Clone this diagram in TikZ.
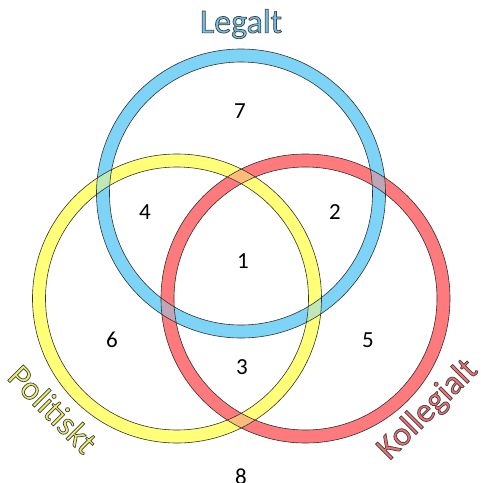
\documentclass[tikz,border=0pt]{standalone}
\usepackage{fontspec}
\setmainfont{Carlito}
\usepackage{tikz}
\usetikzlibrary{positioning}
\definecolor{legalblue}{RGB}{125,212,246}
\definecolor{polyellow}{RGB}{255,255,120}
\definecolor{kollred}{RGB}{255,122,124}
\definecolor{legaltext}{RGB}{110,196,232}
\definecolor{poltext}{RGB}{238,238,110}
\definecolor{kolltext}{RGB}{240,112,116}
% outlined text (fill + thin dark stroke)
\newcommand{\outlined}[2]{{\color{#1}\special{pdf:literal direct 2 Tr 0.7 w 0.25 0.25 0.25 RG}#2\special{pdf:literal direct 0 Tr}}}
\tikzset{ring/.style={even odd rule},
  glaze/.style={even odd rule, fill opacity=0.5},
  rim/.style={draw=black!80, line width=0.6pt},
  region/.style={font=\fontsize{23}{26}\selectfont, text=black},
  setname/.style={font=\fontsize{34}{38}\selectfont, inner sep=0pt}}
\begin{document}
\begin{tikzpicture}[x=1pt,y=-1pt]
  \useasboundingbox (0,0) rectangle (481,483);
  \coordinate (legal) at (241,193.5);
  \coordinate (pol) at (177,298.5);
  \coordinate (koll) at (305.5,298.5);
  % rings
  \fill [ring, fill=polyellow] (pol) circle [radius=144.5] (pol) circle [radius=131.5];
  \fill [ring, fill=kollred] (koll) circle [radius=144.5] (koll) circle [radius=131.5];
  \fill [ring, fill=legalblue] (legal) circle [radius=144.5] (legal) circle [radius=131.5];
  % see-through overlaps
  \fill [glaze, fill=kollred] (koll) circle [radius=144.5] (koll) circle [radius=131.5];
  \fill [glaze, fill=polyellow] (pol) circle [radius=144.5] (pol) circle [radius=131.5];
  \foreach \c in {legal,pol,koll} {
    \draw [rim] (\c) circle [radius=144.5];
    \draw [rim] (\c) circle [radius=131.5];
  }
  % set names
  \node [setname] (legalt) at (241,24) {\outlined{legaltext}{Legalt}};
  \node [setname, rotate=-45] (politiskt) at (53,409) {\outlined{poltext}{Politiskt}};
  \node [setname, rotate=45] (kollegialt) at (428,410) {\outlined{kolltext}{Kollegialt}};
  % regions
  \node [region] (r1) at (243,261) {1};
  \node [region] (r2) at (335,212) {2};
  \node [region] (r3) at (242,367) {3};
  \node [region] (r4) at (145,212) {4};
  \node [region] (r5) at (368,340) {5};
  \node [region] (r6) at (112,340) {6};
  \node [region] (r7) at (240,111) {7};
  \node [region] (r8) at (241,477) {8};
\end{tikzpicture}
\end{document}
